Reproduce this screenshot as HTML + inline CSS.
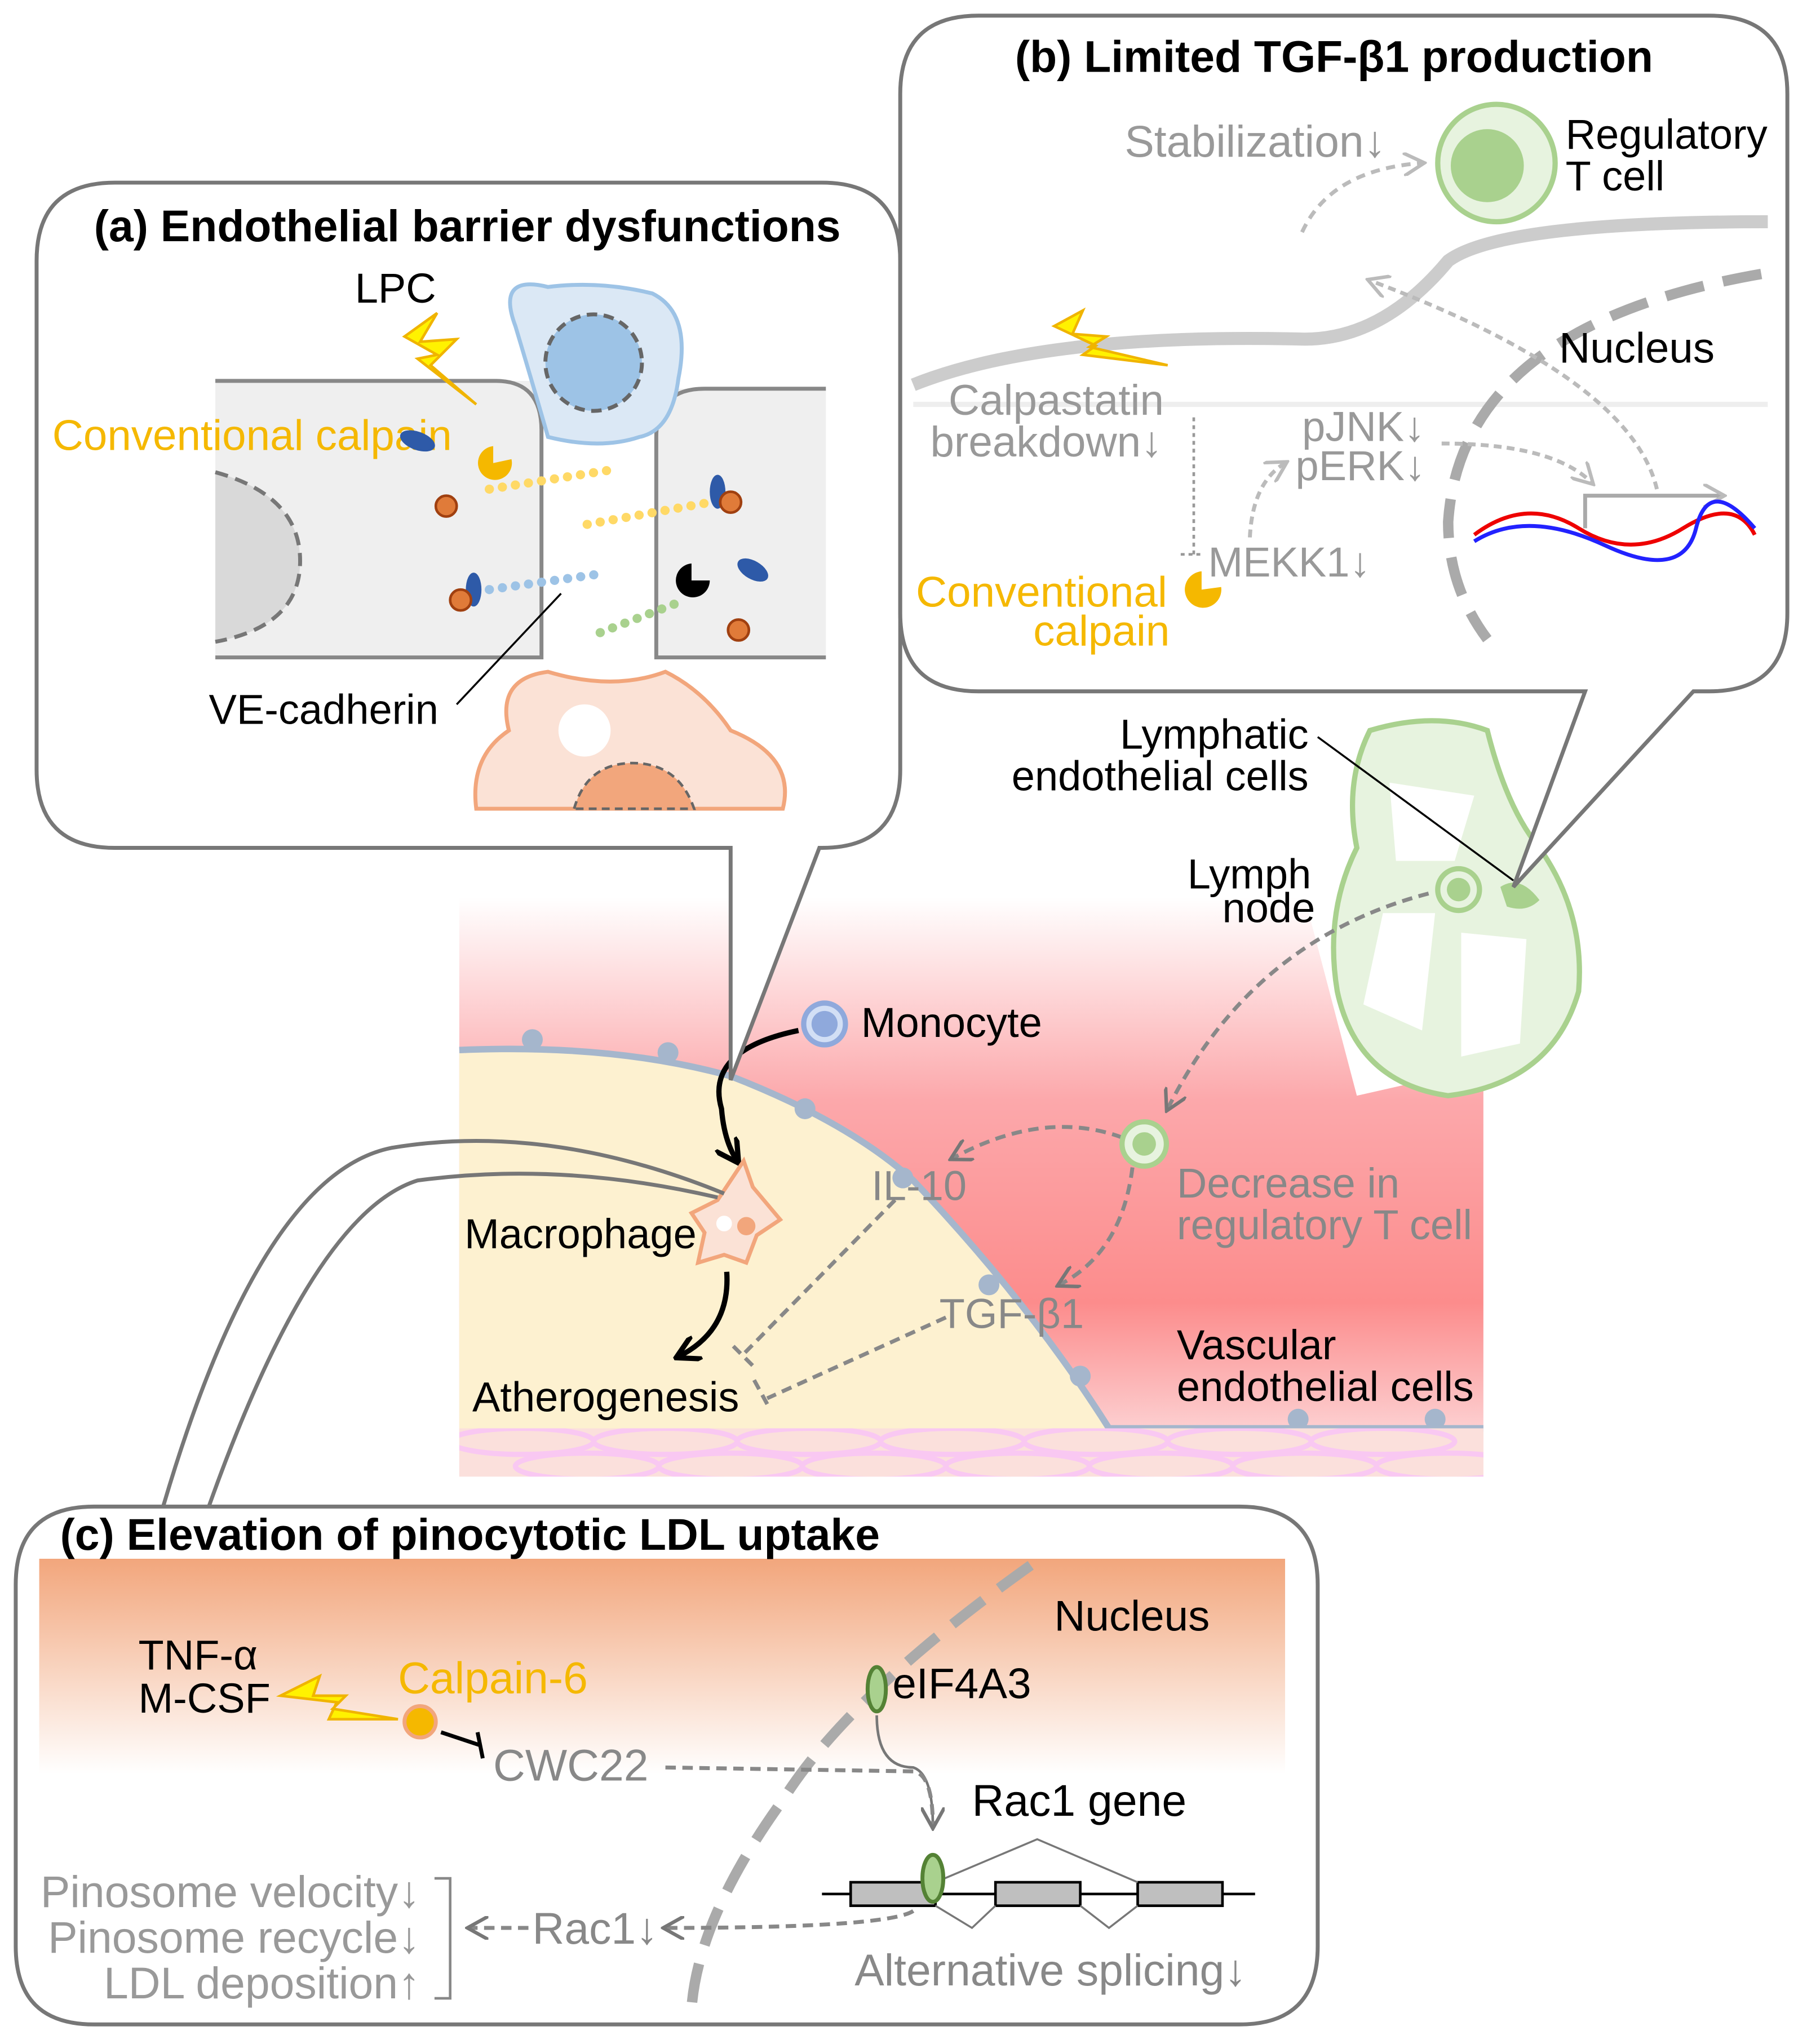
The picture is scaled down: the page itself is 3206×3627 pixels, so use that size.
<!DOCTYPE html>
<html><head><meta charset="utf-8"><style>
html,body{margin:0;padding:0;background:#fff}
svg{display:block}
text{font-family:"Liberation Sans",sans-serif}
</style></head><body>
<svg width="3206" height="3627" viewBox="0 0 1385 1567" xmlns="http://www.w3.org/2000/svg">
<defs>
<linearGradient id="pk" x1="0" y1="0" x2="0" y2="1">
<stop offset="0" stop-color="#fff"/><stop offset="0.35" stop-color="#fca8ab"/><stop offset="0.7" stop-color="#fc8c8c"/><stop offset="1" stop-color="#fde8ea"/>
</linearGradient>
<linearGradient id="og" x1="0" y1="0" x2="0" y2="1">
<stop offset="0" stop-color="#f2a67c"/><stop offset="1" stop-color="#fff"/>
</linearGradient>
<clipPath id="cm"><rect x="352" y="1095" width="785" height="37"/></clipPath>
<marker id="ab" viewBox="0 0 10 10" refX="8" refY="5" markerWidth="5" markerHeight="5" orient="auto"><path d="M0,0L9,5L0,10" fill="none" stroke="#000" stroke-width="2"/></marker>
<marker id="ag" viewBox="0 0 10 10" refX="8" refY="5" markerWidth="6" markerHeight="6" orient="auto"><path d="M0,0L9,5L0,10" fill="none" stroke="#777" stroke-width="1.5"/></marker>
<marker id="al" viewBox="0 0 10 10" refX="8" refY="5" markerWidth="6" markerHeight="6" orient="auto"><path d="M0,0L9,5L0,10" fill="none" stroke="#bbb" stroke-width="1.5"/></marker>
</defs>

<!-- central vessel -->
<rect x="352" y="688" width="785" height="444" fill="url(#pk)"/>
<path d="M1040,840 L1137,818 L1137,688 L1000,688 Z" fill="#fff"/>
<path d="M352,805 Q470,800 560,825 Q650,860 700,905 Q790,1000 850,1095 L352,1095 Z" fill="#fdf1d0"/>
<path d="M352,805 Q470,800 560,825 Q650,860 700,905 Q790,1000 850,1095 L1137,1095" fill="none" stroke="#a5b6cc" stroke-width="5"/>
<g fill="#a5b6cc"><circle cx="408" cy="797" r="8"/><circle cx="512" cy="807" r="8"/><circle cx="617" cy="850" r="8"/><circle cx="692" cy="903" r="8"/><circle cx="758" cy="985" r="8"/><circle cx="828" cy="1055" r="8"/><circle cx="995" cy="1088" r="8"/><circle cx="1100" cy="1088" r="8"/></g>
<rect x="352" y="1095" width="785" height="37" fill="#fbe0dc"/>
<g fill="none" stroke="#f9c8f2" stroke-width="4" clip-path="url(#cm)">
<ellipse cx="400" cy="1105" rx="55" ry="10"/><ellipse cx="510" cy="1105" rx="55" ry="10"/><ellipse cx="620" cy="1105" rx="55" ry="10"/><ellipse cx="730" cy="1105" rx="55" ry="10"/><ellipse cx="840" cy="1105" rx="55" ry="10"/><ellipse cx="950" cy="1105" rx="55" ry="10"/><ellipse cx="1060" cy="1105" rx="55" ry="10"/>
<ellipse cx="450" cy="1124" rx="55" ry="10"/><ellipse cx="560" cy="1124" rx="55" ry="10"/><ellipse cx="670" cy="1124" rx="55" ry="10"/><ellipse cx="780" cy="1124" rx="55" ry="10"/><ellipse cx="890" cy="1124" rx="55" ry="10"/><ellipse cx="1000" cy="1124" rx="55" ry="10"/><ellipse cx="1110" cy="1124" rx="55" ry="10"/>
</g>

<!-- lymph node -->
<path d="M1050,560 Q1100,545 1140,560 Q1155,620 1180,650 Q1215,700 1210,760 Q1190,830 1110,840 Q1040,830 1025,760 Q1015,700 1040,650 Q1030,600 1050,560 Z" fill="#e7f3df" stroke="#a9d18e" stroke-width="4"/>
<g fill="#fff"><path d="M1060,700 L1100,700 L1090,790 L1045,770 Z"/><path d="M1120,715 L1170,720 L1165,800 L1120,810 Z"/><path d="M1065,600 L1130,610 L1115,660 L1070,660 Z"/></g>
<circle cx="1118" cy="682" r="16" fill="#e7f3df" stroke="#a9d18e" stroke-width="4"/><circle cx="1118" cy="682" r="9" fill="#a9d18e"/>
<path d="M1150,680 Q1165,670 1180,690 Q1170,700 1155,695 Z" fill="#a9d18e"/>
<line x1="1010" y1="565" x2="1160" y2="675" stroke="#000" stroke-width="1.5"/>
<text x="1003" y="574" font-size="32" text-anchor="end">Lymphatic</text>
<text x="1003" y="606" font-size="32" text-anchor="end">endothelial cells</text>
<text x="1005" y="681" font-size="32" text-anchor="end">Lymph</text>
<text x="1008" y="707" font-size="32" text-anchor="end">node</text>

<!-- central labels and arrows -->
<circle cx="632" cy="785" r="16" fill="#d2dff5" stroke="#8fa9dc" stroke-width="4"/><circle cx="632" cy="785" r="10" fill="#8fa9dc"/>
<text x="660" y="795" font-size="32">Monocyte</text>
<path d="M612,790 Q540,805 553,850 Q555,875 565,890" fill="none" stroke="#000" stroke-width="4" marker-end="url(#ab)"/>
<path d="M570,890 L577,910 L598,935 L580,947 L572,968 L555,962 L535,968 L540,945 L530,930 L550,920 Z" fill="#fbe2d6" stroke="#f2a67c" stroke-width="3"/>
<circle cx="572" cy="940" r="7" fill="#f2a67c"/><circle cx="555" cy="938" r="6" fill="#fff"/>
<text x="356" y="957" font-size="32">Macrophage</text>
<path d="M557,975 Q560,1020 520,1040" fill="none" stroke="#000" stroke-width="4" marker-end="url(#ab)"/>
<text x="362" y="1082" font-size="32">Atherogenesis</text>
<text x="668" y="920" font-size="32" fill="#888">IL-10</text>
<text x="720" y="1018" font-size="32" fill="#888">TGF-β1</text>
<g stroke="#888" stroke-width="3" stroke-dasharray="8,5" fill="none">
<path d="M686,920 L568,1040"/><path d="M562,1032 L578,1048"/>
<path d="M725,1010 L588,1072"/><path d="M578,1058 L590,1080"/>
<path d="M860,872 Q800,850 730,888" marker-end="url(#ag)"/>
<path d="M868,895 Q860,960 812,985" marker-end="url(#ag)"/>
<path d="M1095,685 Q960,720 895,850" marker-end="url(#ag)"/>
</g>
<circle cx="877" cy="877" r="17" fill="#e7f3df" stroke="#a9d18e" stroke-width="4"/><circle cx="877" cy="877" r="9" fill="#a9d18e"/>
<text x="902" y="918" font-size="32" fill="#888">Decrease in</text>
<text x="902" y="950" font-size="32" fill="#888">regulatory T cell</text>
<text x="902" y="1042" font-size="32">Vascular</text>
<text x="902" y="1074" font-size="32">endothelial cells</text>

<!-- panel a -->
<path d="M88,140 L630,140 Q690,140 690,200 L690,590 Q690,650 630,650 L628,650 L560,828 L560,650 L88,650 Q28,650 28,590 L28,200 Q28,140 88,140 Z" fill="#fff" stroke="#777" stroke-width="3"/>
<text x="72" y="185" font-size="34" font-weight="bold">(a) Endothelial barrier dysfunctions</text>
<rect x="165" y="292" width="250" height="212" fill="#efefef"/>
<path d="M165,292 L380,292 Q415,292 415,330 L415,504 L165,504" fill="none" stroke="#888" stroke-width="3"/>
<path d="M165,362 Q230,380 230,430 Q230,480 165,492" fill="#d9d9d9" stroke="#777" stroke-width="3" stroke-dasharray="10,6"/>
<rect x="503" y="298" width="130" height="206" fill="#efefef"/>
<path d="M633,298 L540,298 Q503,298 503,335 L503,504 L633,504" fill="none" stroke="#888" stroke-width="3"/>
<path d="M395,250 Q380,210 420,220 Q460,215 500,225 Q530,240 520,290 Q515,330 490,335 Q460,345 420,335 Q410,300 395,250 Z" fill="#dbe8f5" stroke="#9dc3e6" stroke-width="3"/>
<circle cx="455" cy="278" r="37" fill="#9dc3e6" stroke="#666" stroke-width="3" stroke-dasharray="8,5"/>
<path d="M390,560 Q380,520 420,515 Q470,530 510,515 Q540,530 560,560 Q610,580 600,620 L365,620 Q360,580 390,560 Z" fill="#fbe2d6" stroke="#f2a67c" stroke-width="3"/>
<path d="M440,620 Q450,585 485,585 Q520,585 532,620 Z" fill="#f2a67c" stroke="#666" stroke-width="2" stroke-dasharray="6,4"/>
<circle cx="448" cy="560" r="20" fill="#fff"/>
<path d="M310,258 L335,240 L322,262 L350,260 L330,280 L365,310 L320,275 L335,272 Z" fill="#fff200" stroke="#f0b400" stroke-width="2"/>
<text x="272" y="232" font-size="32">LPC</text>
<text x="40" y="345" font-size="33" fill="#f5b800">Conventional calpain</text>
<path d="M378,342 A13,13 0 1 0 392,352 L378,355 Z" fill="#f5b800"/>
<path d="M530,432 A13,13 0 1 0 544,445 L530,445 Z" fill="#000"/>
<g fill="#2e5aa8"><ellipse cx="320" cy="338" rx="14" ry="7" transform="rotate(20 320 338)"/><ellipse cx="363" cy="452" rx="6" ry="13"/><ellipse cx="550" cy="377" rx="6" ry="13"/><ellipse cx="577" cy="437" rx="13" ry="7" transform="rotate(30 577 437)"/></g>
<g fill="#e07b39" stroke="#a04010" stroke-width="2"><circle cx="342" cy="388" r="8"/><circle cx="353" cy="460" r="8"/><circle cx="560" cy="385" r="8"/><circle cx="566" cy="483" r="8"/></g>
<g fill="none" stroke-width="7" stroke-linecap="round" stroke-dasharray="0.1,10">
<path d="M375,375 L470,360" stroke="#ffd966"/><path d="M375,452 L460,440" stroke="#9dc3e6"/><path d="M450,402 L545,385" stroke="#ffd966"/><path d="M460,485 L525,460" stroke="#a9d18e"/>
</g>
<text x="160" y="555" font-size="32">VE-cadherin</text>
<line x1="350" y1="540" x2="430" y2="455" stroke="#000" stroke-width="1.5"/>

<!-- panel b -->
<path d="M750,12 L1310,12 Q1370,12 1370,72 L1370,470 Q1370,530 1310,530 L1298,530 L1160,680 L1215,530 L750,530 Q690,530 690,470 L690,72 Q690,12 750,12 Z" fill="#fff" stroke="#777" stroke-width="3"/>
<text x="778" y="55" font-size="34" font-weight="bold">(b) Limited TGF-β1 production</text>
<path d="M700,295 Q800,255 1000,260 Q1060,260 1110,200 Q1150,170 1355,170" fill="none" stroke="#ccc" stroke-width="10"/>
<path d="M700,310 L1355,310" stroke="#eee" stroke-width="4"/>
<circle cx="1147" cy="125" r="45" fill="#e7f3df" stroke="#a9d18e" stroke-width="4"/><circle cx="1140" cy="127" r="28" fill="#a9d18e"/>
<text x="1200" y="114" font-size="32">Regulatory</text>
<text x="1200" y="146" font-size="32">T cell</text>
<text x="862" y="120" font-size="34" fill="#999">Stabilization↓</text>
<path d="M998,178 Q1020,130 1090,125" fill="none" stroke="#bbb" stroke-width="3" stroke-dasharray="7,5" marker-end="url(#al)"/>
<path d="M1350,210 Q1120,250 1110,400 Q1110,450 1140,490" fill="none" stroke="#aaa" stroke-width="8" stroke-dasharray="30,15"/>
<text x="1195" y="278" font-size="33">Nucleus</text>
<path d="M808,250 L830,238 L822,256 L848,258 L835,266 L895,280 L830,272 L840,265 Z" fill="#fff200" stroke="#f0b400" stroke-width="2"/>
<text x="727" y="318" font-size="33" fill="#999">Calpastatin</text>
<text x="713" y="350" font-size="33" fill="#999">breakdown↓</text>
<path d="M915,320 L915,425 M905,425 L920,425" stroke="#999" stroke-width="2" stroke-dasharray="3,3" fill="none"/>
<text x="998" y="338" font-size="32" fill="#999">pJNK↓</text>
<text x="993" y="368" font-size="32" fill="#999">pERK↓</text>
<text x="926" y="442" font-size="32" fill="#999">MEKK1↓</text>
<path d="M958,412 Q960,370 985,355" fill="none" stroke="#bbb" stroke-width="3" stroke-dasharray="6,4" marker-end="url(#al)"/>
<path d="M1105,340 Q1190,340 1220,370" fill="none" stroke="#bbb" stroke-width="3" stroke-dasharray="6,4" marker-end="url(#al)"/>
<path d="M1270,375 Q1250,290 1050,215" fill="none" stroke="#bbb" stroke-width="3" stroke-dasharray="6,4" marker-end="url(#al)"/>
<text x="702" y="465" font-size="33" fill="#f5b800">Conventional</text>
<text x="792" y="495" font-size="33" fill="#f5b800">calpain</text>
<path d="M921,438 A14,14 0 1 0 936,450 L921,452 Z" fill="#f5b800"/>
<path d="M1215,405 L1215,380 L1320,380" fill="none" stroke="#aaa" stroke-width="3" marker-end="url(#al)"/>
<path d="M1130,410 Q1170,380 1210,405 T1290,405 T1345,410" fill="none" stroke="#e00" stroke-width="3"/>
<path d="M1130,415 Q1170,390 1230,418 T1300,405 T1345,405" fill="none" stroke="#22f" stroke-width="3"/>

<!-- panel c tail -->
<path d="M125,1155 Q200,900 300,880 Q420,860 555,915" fill="none" stroke="#777" stroke-width="3"/>
<path d="M160,1155 Q240,930 320,905 Q430,890 550,918" fill="none" stroke="#777" stroke-width="3"/>
<!-- panel c -->
<path d="M72,1155 L950,1155 Q1010,1155 1010,1215 L1010,1492 Q1010,1552 950,1552 L72,1552 Q12,1552 12,1492 L12,1215 Q12,1155 72,1155 Z" fill="#fff" stroke="#777" stroke-width="3"/>
<rect x="30" y="1195" width="955" height="165" fill="url(#og)"/>
<text x="46" y="1188" font-size="34" font-weight="bold">(c) Elevation of pinocytotic LDL uptake</text>
<path d="M790,1200 Q650,1300 600,1380 Q535,1470 530,1540" fill="none" stroke="#aaa" stroke-width="8" stroke-dasharray="30,15"/>
<text x="808" y="1250" font-size="33">Nucleus</text>
<text x="106" y="1280" font-size="32">TNF-α</text>
<text x="106" y="1313" font-size="32">M-CSF</text>
<path d="M215,1300 L245,1285 L240,1300 L265,1300 L255,1310 L305,1318 L252,1318 L258,1305 Z" fill="#fff200" stroke="#f0b400" stroke-width="2"/>
<text x="305" y="1298" font-size="34" fill="#f5b800">Calpain-6</text>
<circle cx="322" cy="1320" r="12" fill="#f5b800" stroke="#f2a67c" stroke-width="3"/>
<path d="M338,1328 L368,1338 M366,1328 L370,1348" stroke="#000" stroke-width="3"/>
<text x="378" y="1365" font-size="34" fill="#888">CWC22</text>
<ellipse cx="672" cy="1295" rx="7" ry="17" fill="#a9d18e" stroke="#548235" stroke-width="3"/>
<text x="684" y="1302" font-size="33">eIF4A3</text>
<path d="M672,1315 Q672,1355 700,1355 Q715,1360 715,1400" fill="none" stroke="#777" stroke-width="2"/>
<path d="M510,1355 L700,1358 Q715,1360 715,1400" fill="none" stroke="#888" stroke-width="3" stroke-dasharray="8,5" marker-end="url(#ag)"/>
<text x="745" y="1392" font-size="34">Rac1 gene</text>
<line x1="630" y1="1452" x2="962" y2="1452" stroke="#000" stroke-width="2"/>
<g fill="#bfbfbf" stroke="#000" stroke-width="2"><rect x="652" y="1443" width="65" height="18"/><rect x="763" y="1443" width="65" height="18"/><rect x="872" y="1443" width="65" height="18"/></g>
<path d="M717,1443 L795,1410 L872,1443 M717,1461 L745,1478 L763,1461 M828,1461 L850,1478 L872,1461" fill="none" stroke="#777" stroke-width="1.5"/>
<ellipse cx="715" cy="1440" rx="8" ry="18" fill="#a9d18e" stroke="#548235" stroke-width="3"/>
<text x="655" y="1522" font-size="34" fill="#888">Alternative splicing↓</text>
<path d="M700,1465 Q680,1478 510,1478" fill="none" stroke="#888" stroke-width="3" stroke-dasharray="8,5" marker-end="url(#ag)"/>
<text x="408" y="1490" font-size="34" fill="#888">Rac1↓</text>
<path d="M405,1478 L360,1478" fill="none" stroke="#888" stroke-width="3" stroke-dasharray="8,5" marker-end="url(#ag)"/>
<path d="M333,1440 L345,1440 L345,1532 L333,1532" fill="none" stroke="#888" stroke-width="2"/>
<text x="322" y="1462" font-size="34" fill="#999" text-anchor="end">Pinosome velocity↓</text>
<text x="322" y="1497" font-size="34" fill="#999" text-anchor="end">Pinosome recycle↓</text>
<text x="322" y="1532" font-size="34" fill="#999" text-anchor="end">LDL deposition↑</text>
</svg>
</body></html>
